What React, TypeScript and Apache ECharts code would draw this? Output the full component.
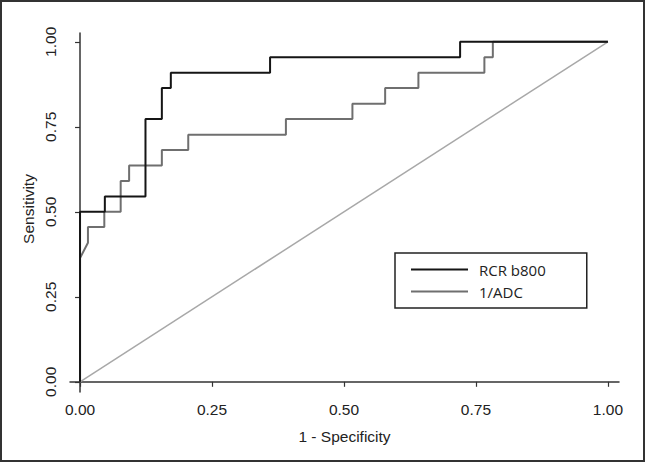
import React, { useEffect, useRef } from "react";
import * as echarts from "echarts";

const tickValues = [0, 0.25, 0.5, 0.75, 1];
const tickLabels = ["0.00", "0.25", "0.50", "0.75", "1.00"];

const rcrName = "RCR b800";
const rcrFpr = [0, 0, 0.047, 0.047, 0.124, 0.124, 0.155, 0.155, 0.172, 0.172, 0.36, 0.36, 0.72, 0.72, 1];
const rcrTpr = [0, 0.5, 0.5, 0.545, 0.545, 0.773, 0.773, 0.864, 0.864, 0.909, 0.909, 0.955, 0.955, 1, 1];

const adcName = "1/ADC";
const adcFpr = [0, 0, 0.015, 0.015, 0.046, 0.046, 0.077, 0.077, 0.093, 0.093, 0.155, 0.155, 0.205, 0.205, 0.39, 0.39, 0.516, 0.516, 0.578, 0.578, 0.641, 0.641, 0.766, 0.766, 0.782, 0.782, 1];
const adcTpr = [0, 0.364, 0.409, 0.455, 0.455, 0.5, 0.5, 0.591, 0.591, 0.636, 0.636, 0.682, 0.682, 0.727, 0.727, 0.773, 0.773, 0.818, 0.818, 0.864, 0.864, 0.909, 0.909, 0.955, 0.955, 1, 1];

const refFpr = [0, 1];
const refTpr = [0, 1];

const zip = (a: number[], b: number[]) => a.map((v, i) => [v, b[i]]);

export default function App() {
  const ref = useRef<HTMLDivElement>(null);
  useEffect(() => {
    document.body.style.margin = "0";
    const chart = echarts.init(ref.current!, null, { renderer: "svg" });
    const axisFont = "'Liberation Sans', Arial, sans-serif";
    chart.setOption({
      animation: false,
      backgroundColor: "#ffffff",
      grid: { left: 70, top: 33, width: 549, height: 359, containLabel: false },
      xAxis: {
        type: "value",
        min: -0.019,
        max: 1.021,
        name: "1 - Specificity",
        nameLocation: "middle",
        nameGap: 36,
        nameTextStyle: { fontFamily: axisFont, fontSize: 15.5, color: "#222" },
        axisLine: { show: true, lineStyle: { color: "#333", width: 1.5 } },
        axisTick: { show: true, customValues: tickValues, length: 5, lineStyle: { color: "#333", width: 1.2 } },
        axisLabel: {
          customValues: tickValues,
          formatter: (v: number) => tickLabels[tickValues.indexOf(v)] ?? "",
          fontFamily: axisFont,
          fontSize: 15.5,
          color: "#222",
          margin: 9,
        },
        splitLine: { show: false },
      },
      yAxis: {
        type: "value",
        min: -0.03,
        max: 1.026,
        axisLine: { show: true, lineStyle: { color: "#333", width: 1.5 } },
        axisTick: { show: true, customValues: tickValues, length: 5, lineStyle: { color: "#333", width: 1.2 } },
        axisLabel: {
          customValues: tickValues,
          formatter: (v: number) => tickLabels[tickValues.indexOf(v)] ?? "",
          fontFamily: axisFont,
          fontSize: 15.5,
          color: "#222",
          rotate: 90,
          margin: 12,
        },
        splitLine: { show: false },
      },
      legend: {
        data: [rcrName, adcName],
        orient: "vertical",
        left: 395,
        top: 253,
        itemWidth: 57,
        itemHeight: 14,
        itemGap: 7,
        padding: [9, 41, 9, 15],
        borderColor: "#222",
        borderWidth: 1.5,
        itemStyle: { opacity: 0 },
        textStyle: { fontFamily: "'Open Sans', sans-serif", fontSize: 15, color: "#222", padding: [0, 0, 0, 6] },
      },
      graphic: [
        {
          type: "text",
          x: 28,
          y: 209,
          rotation: Math.PI / 2,
          style: {
            text: "Sensitivity",
            fontFamily: axisFont,
            fontSize: 15.5,
            fill: "#222",
            textAlign: "center",
            textVerticalAlign: "middle",
          },
        },
        {
          type: "rect",
          shape: { x: 1, y: 1, width: 643, height: 460 },
          style: { fill: "none", stroke: "#333", lineWidth: 2 },
          silent: true,
        },
      ],
      series: [
        {
          name: rcrName,
          type: "line",
          data: zip(rcrFpr, rcrTpr),
          symbol: "none",
          z: 4,
          lineStyle: { color: "#151515", width: 2 },
          itemStyle: { color: "#151515" },
        },
        {
          name: adcName,
          type: "line",
          data: zip(adcFpr, adcTpr),
          symbol: "none",
          z: 3,
          lineStyle: { color: "#6f6f6f", width: 2 },
          itemStyle: { color: "#6f6f6f" },
        },
        {
          name: "reference",
          type: "line",
          data: zip(refFpr, refTpr),
          symbol: "none",
          z: 2,
          lineStyle: { color: "#a8a8a8", width: 1.5 },
          itemStyle: { color: "#a8a8a8" },
        },
      ],
    });
    return () => chart.dispose();
  }, []);
  return <div ref={ref} style={{ position: "absolute", left: 0, top: 0, width: 645, height: 462 }} />;
}
